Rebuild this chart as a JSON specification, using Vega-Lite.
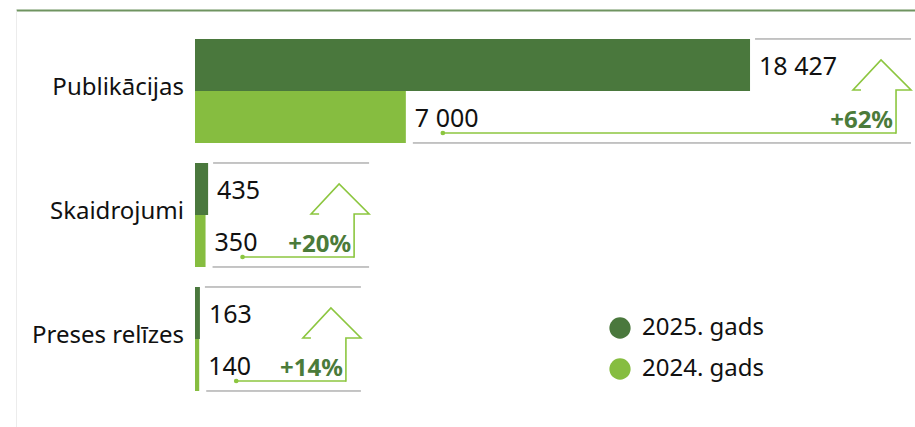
{
  "$schema": "https://vega.github.io/schema/vega-lite/v6.json",
  "width": 899,
  "height": 417,
  "padding": {"left": 16, "top": 10, "right": 0, "bottom": 0},
  "autosize": {"type": "none"},
  "background": "white",
  "config": {
    "view": {"stroke": null},
    "font": "Noto Sans",
    "locale": {"number": {"decimal": ",", "thousands": " ", "grouping": [3], "currency": ["", " €"], "percent": "%"}}
  },
  "datasets": {
    "rows": [
      {"cat": "Publikācijas", "y2025": 18427, "y2024": 7000, "change": 0.62},
      {"cat": "Skaidrojumi", "y2025": 435, "y2024": 350, "change": 0.20},
      {"cat": "Preses relīzes", "y2025": 163, "y2024": 140, "change": 0.14}
    ]
  },
  "data": {"name": "rows"},
  "encoding": {
    "y": {
      "field": "cat", "type": "nominal", "sort": null,
      "scale": {"paddingInner": 0.1613, "paddingOuter": 0.262, "align": 0.446},
      "axis": {"orient": "left", "title": null, "labels": false, "ticks": false, "domainColor": "#ececec", "domainWidth": 1}
    }
  },
  "layer": [
    {
      "transform": [{"fold": ["y2025", "y2024"], "as": ["key", "value"]}],
      "mark": {"type": "bar"},
      "encoding": {
        "x": {
          "field": "value", "type": "quantitative",
          "scale": {"domain": [-5943, 23904], "nice": false, "zero": false},
          "axis": {"orient": "top", "title": null, "labels": false, "ticks": false, "grid": false, "domainColor": "#6f9460", "domainWidth": 2}
        },
        "yOffset": {"field": "key", "type": "nominal", "sort": ["y2025", "y2024"], "scale": {"paddingInner": 0, "paddingOuter": 0}},
        "color": {
          "field": "key", "type": "nominal", "sort": ["y2025", "y2024"],
          "scale": {"domain": ["y2025", "y2024"], "range": ["#4a783d", "#86bd40"]},
          "legend": {
            "orient": "none", "legendX": 592, "legendY": 306, "title": null,
            "symbolType": "circle", "symbolSize": 452, "symbolStrokeWidth": 0, "symbolOpacity": 1,
            "labelFont": "Noto Sans", "labelFontSize": 24, "labelColor": "#111", "labelOffset": 10,
            "rowPadding": 17, "padding": 0,
            "labelExpr": "datum.label == 'y2025' ? '2025. gads' : '2024. gads'"
          }
        }
      }
    },
    {
      "transform": [{"fold": ["y2025", "y2024"], "as": ["key", "value"]}],
      "mark": {"type": "text", "align": "left", "baseline": "alphabetic", "dx": 9, "dy": 10, "fontSize": 25, "color": "#111"},
      "encoding": {
        "x": {"field": "value", "type": "quantitative"},
        "yOffset": {"field": "key", "type": "nominal", "sort": ["y2025", "y2024"]},
        "text": {"field": "value", "type": "quantitative", "format": ",d"}
      }
    },
    {
      "mark": {"type": "text", "align": "right", "baseline": "alphabetic", "dx": -11, "dy": 4, "fontSize": 24, "color": "#111"},
      "encoding": {
        "x": {"datum": 0, "type": "quantitative"},
        "text": {"field": "cat"}
      }
    },
    {
      "mark": {"type": "rule", "color": "#8a8a8a", "strokeWidth": 1, "yOffset": -52, "xOffset": 5, "x2Offset": 161},
      "encoding": {
        "x": {"field": "y2025", "type": "quantitative"},
        "x2": {"field": "y2025"}
      }
    },
    {
      "mark": {"type": "rule", "color": "#8a8a8a", "strokeWidth": 1, "yOffset": 52, "xOffset": 7, "x2Offset": 161},
      "encoding": {
        "x": {"field": "y2024", "type": "quantitative"},
        "x2": {"field": "y2025"}
      }
    },
    {
      "mark": {"type": "rule", "color": "#8cc63f", "strokeWidth": 1.6, "yOffset": 42, "xOffset": 37, "x2Offset": 146},
      "encoding": {
        "x": {"field": "y2024", "type": "quantitative"},
        "x2": {"field": "y2025"}
      }
    },
    {
      "mark": {"type": "point", "filled": true, "color": "#8cc63f", "size": 22, "opacity": 1, "yOffset": 42, "xOffset": 37},
      "encoding": {
        "x": {"field": "y2024", "type": "quantitative"}
      }
    },
    {
      "mark": {"type": "point", "filled": false, "stroke": "#8cc63f", "strokeWidth": 1.6, "opacity": 1, "size": 4, "xOffset": 146,
        "shape": "M0,42.8L0,-1L15,-1L-15,-31L-43,-1L-35,-1"},
      "encoding": {
        "x": {"field": "y2025", "type": "quantitative"}
      }
    },
    {
      "mark": {"type": "text", "align": "right", "baseline": "alphabetic", "dx": 143, "dy": 37, "fontSize": 24, "fontWeight": "bold", "color": "#4b7b3a"},
      "encoding": {
        "x": {"field": "y2025", "type": "quantitative"},
        "text": {"field": "change", "type": "quantitative", "format": "+.0%"}
      }
    }
  ]
}
